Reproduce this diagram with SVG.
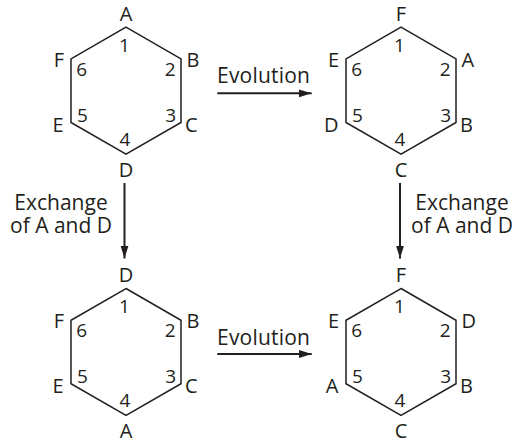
<svg xmlns="http://www.w3.org/2000/svg" width="512" height="441" viewBox="0 0 512 441">
  <style>
    .hex { fill: none; stroke: #231f20; stroke-width: 1.5; stroke-linejoin: miter; }
    .lbl { font-family: "Open Sans", "Noto Sans", "DejaVu Sans", sans-serif; font-size: 20px; fill: #231f20; }
    .num { font-family: "Open Sans", "Noto Sans", "DejaVu Sans", sans-serif; font-size: 19px; fill: #231f20; text-anchor: middle; }
    .cap { font-family: "Open Sans", "Noto Sans", "DejaVu Sans", sans-serif; font-size: 21px; fill: #231f20; }
    .mid { text-anchor: middle; }
    .end { text-anchor: end; }
    .arrow { stroke: #231f20; stroke-width: 2; fill: none; }
  </style>
  <defs>
    <polygon id="hexagon" class="hex" points="0,-63.5 55,-31.75 55,31.75 0,63.5 -55,31.75 -55,-31.75"/>
    <marker id="head" markerUnits="userSpaceOnUse" markerWidth="14" markerHeight="10" refX="13" refY="4" orient="auto">
      <path d="M0,0 L13,4 L0,8 Z" fill="#231f20"/>
    </marker>
  </defs>

  <!-- ring before evolution, top left -->
  <g id="ring-initial" transform="translate(126,90.7)">
    <use href="#hexagon"/>
    <text class="lbl mid" x="0" y="-70">A</text>
    <text class="lbl" x="60.5" y="-24">B</text>
    <text class="lbl" x="59" y="41">C</text>
    <text class="lbl mid" x="0" y="86.3">D</text>
    <text class="lbl end" x="-62.5" y="41">E</text>
    <text class="lbl end" x="-62" y="-24">F</text>
    <text class="num" x="-1.5" y="-39">1</text>
    <text class="num" x="44.3" y="-14.7">2</text>
    <text class="num" x="44.7" y="31">3</text>
    <text class="num" x="-1" y="55">4</text>
    <text class="num" x="-43.7" y="31">5</text>
    <text class="num" x="-44.3" y="-14.7">6</text>
  </g>

  <!-- ring after evolution, top right -->
  <g id="ring-evolved" transform="translate(401,90.7)">
    <use href="#hexagon"/>
    <text class="lbl mid" x="0" y="-70">F</text>
    <text class="lbl" x="60.5" y="-24">A</text>
    <text class="lbl" x="59" y="41">B</text>
    <text class="lbl mid" x="0" y="86.3">C</text>
    <text class="lbl end" x="-62.5" y="41">D</text>
    <text class="lbl end" x="-62" y="-24">E</text>
    <text class="num" x="-1.5" y="-39">1</text>
    <text class="num" x="44.3" y="-14.7">2</text>
    <text class="num" x="44.7" y="31">3</text>
    <text class="num" x="-1" y="55">4</text>
    <text class="num" x="-43.7" y="31">5</text>
    <text class="num" x="-44.3" y="-14.7">6</text>
  </g>

  <!-- ring after exchange, bottom left -->
  <g id="ring-exchanged" transform="translate(126,352)">
    <use href="#hexagon"/>
    <text class="lbl mid" x="0" y="-70">D</text>
    <text class="lbl" x="60.5" y="-24">B</text>
    <text class="lbl" x="59" y="41">C</text>
    <text class="lbl mid" x="0" y="86.3">A</text>
    <text class="lbl end" x="-62.5" y="41">E</text>
    <text class="lbl end" x="-62" y="-24">F</text>
    <text class="num" x="-1.5" y="-39">1</text>
    <text class="num" x="44.3" y="-14.7">2</text>
    <text class="num" x="44.7" y="31">3</text>
    <text class="num" x="-1" y="55">4</text>
    <text class="num" x="-43.7" y="31">5</text>
    <text class="num" x="-44.3" y="-14.7">6</text>
  </g>

  <!-- ring after exchange and evolution, bottom right -->
  <g id="ring-exchanged-evolved" transform="translate(401,352)">
    <use href="#hexagon"/>
    <text class="lbl mid" x="0" y="-70">F</text>
    <text class="lbl" x="60.5" y="-24">D</text>
    <text class="lbl" x="59" y="41">B</text>
    <text class="lbl mid" x="0" y="86.3">C</text>
    <text class="lbl end" x="-62.5" y="41">A</text>
    <text class="lbl end" x="-62" y="-24">E</text>
    <text class="num" x="-1.5" y="-39">1</text>
    <text class="num" x="44.3" y="-14.7">2</text>
    <text class="num" x="44.7" y="31">3</text>
    <text class="num" x="-1" y="55">4</text>
    <text class="num" x="-43.7" y="31">5</text>
    <text class="num" x="-44.3" y="-14.7">6</text>
  </g>

  <!-- transitions between the rings -->
  <g id="connectors">
    <line class="arrow" x1="217.3" y1="93.3" x2="311.7" y2="93.3" marker-end="url(#head)"/>
    <line class="arrow" x1="217.3" y1="354" x2="311.7" y2="354" marker-end="url(#head)"/>
    <line class="arrow" x1="124.5" y1="183" x2="124.5" y2="258.5" marker-end="url(#head)"/>
    <line class="arrow" x1="400" y1="183" x2="400" y2="258.5" marker-end="url(#head)"/>
    <text class="cap" x="217" y="83.3" textLength="93">Evolution</text>
    <text class="cap" x="217" y="344.5" textLength="93">Evolution</text>
    <text class="cap mid" y="209.5"><tspan x="61">Exchange</tspan><tspan x="61" dy="23.3">of A and D</tspan></text>
    <text class="cap mid" y="209.5"><tspan x="462">Exchange</tspan><tspan x="462" dy="23.3">of A and D</tspan></text>
  </g>
</svg>
